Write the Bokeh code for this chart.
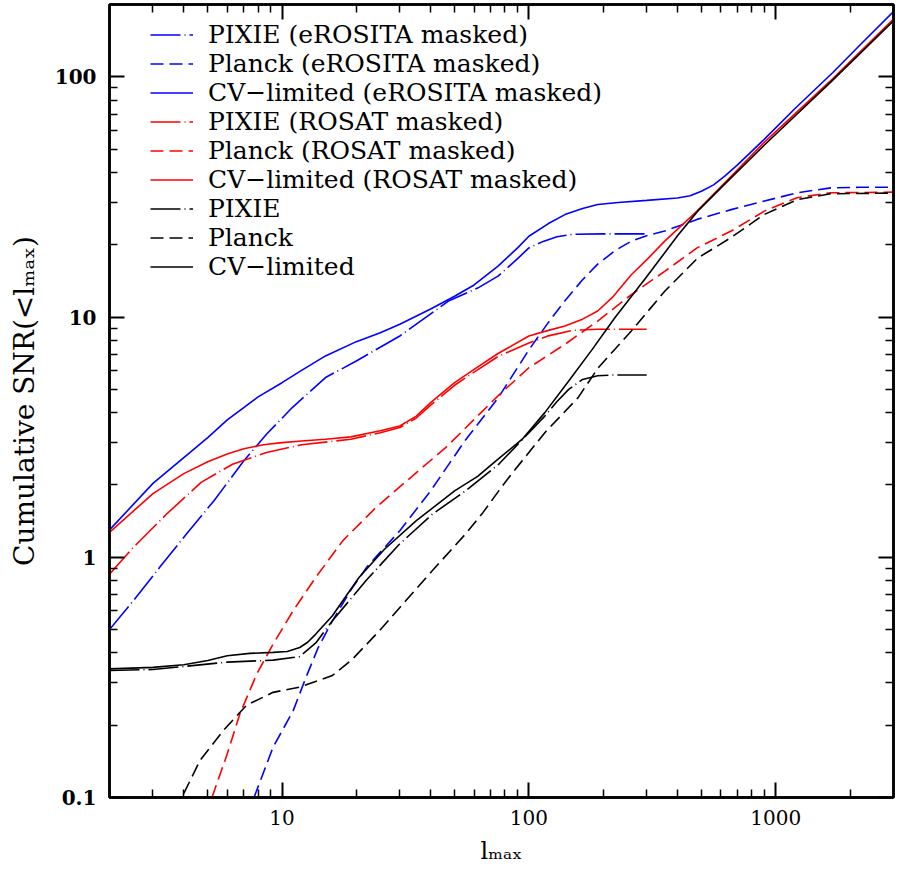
from bokeh.plotting import figure
from bokeh.models import (LogAxis, FixedTicker, CustomJSTickFormatter, Legend, LegendItem,
                          CustomLabelingPolicy)
from bokeh.embed import file_html
from bokeh.resources import INLINE

# ---------------- data ----------------
l_cv_ero = [2, 3, 4, 5, 6, 8, 10, 12, 15, 20, 25, 30, 40, 50, 60, 75, 90, 100, 120, 140, 165, 190,
            230, 300, 400, 450, 500, 560, 620, 700, 900, 1200, 1700, 2200, 3000]
s_cv_ero = [1.30, 2.03, 2.6, 3.15, 3.73, 4.65, 5.33, 6.0, 6.89, 7.9, 8.6, 9.33, 10.8, 12.2, 13.6, 16.3, 19.4, 21.7, 24.5, 26.7, 28.3, 29.4,
            30.0, 30.6, 31.3, 32.0, 33.4, 35.5, 38.5, 43, 55, 74, 104, 136, 187]

l_pixie_ero = [2, 2.5, 3.2, 4.1, 5.3, 7, 8.65, 11, 15, 20, 30, 40, 47.5, 62, 75, 90, 100, 115, 130, 150, 200, 300]
s_pixie_ero = [0.50, 0.66, 0.91, 1.25, 1.72, 2.52, 3.25, 4.2, 5.6, 6.56, 8.34, 10.3, 11.7, 13.2, 14.8, 17.5, 19.4, 20.7, 21.6, 22.1, 22.2, 22.2]

l_planck_ero = [7.7, 9.2, 11.1, 12.5, 14, 16, 19, 22, 30, 40, 55, 75, 100, 120, 140, 165, 190, 225, 260, 300,
                355, 480, 660, 900, 1220, 1670, 2200, 3000]
s_planck_ero = [0.1, 0.162, 0.23, 0.316, 0.42, 0.544, 0.73, 0.908, 1.29, 1.89, 3.05, 4.6, 7.3, 9.5, 11.7, 14.3, 16.6, 19.0, 20.7, 21.8,
                22.8, 25.5, 28.0, 30.4, 32.9, 34.5, 34.7, 34.7]

l_cv_ros = [2, 3, 4, 5, 6, 7, 8.4, 10, 12, 15, 19, 25, 30, 35, 40, 50, 60, 75, 100, 120, 140, 165, 190,
            220, 260, 300, 355, 480, 700, 900, 1700, 3000]
s_cv_ros = [1.27, 1.84, 2.23, 2.5, 2.69, 2.83, 2.94, 3.0, 3.05, 3.1, 3.17, 3.36, 3.52, 3.87, 4.4, 5.33, 6.06, 7.05, 8.34, 8.8, 9.18, 9.8, 10.6,
            12.2, 15.0, 17.3, 20.7, 27.6, 41, 53.5, 98, 174]

l_pixie_ros = [2, 2.5, 3.4, 4.7, 6.3, 8.65, 12, 19, 25, 30, 35, 40, 50, 60, 75, 100, 120, 150, 190, 300]
s_pixie_ros = [0.85, 1.10, 1.51, 2.05, 2.44, 2.73, 2.94, 3.10, 3.30, 3.47, 3.8, 4.3, 5.2, 5.9, 6.85, 7.8, 8.35, 8.8, 8.9, 8.9]

l_planck_ros = [5.2, 6, 6.75, 7.9, 9.2, 11.1, 13.7, 17.6, 24, 32, 46, 75, 100, 140, 190, 260, 355, 480, 660, 900, 1220, 1670, 3000]
s_planck_ros = [0.1, 0.152, 0.223, 0.327, 0.435, 0.60, 0.825, 1.17, 1.61, 2.08, 2.86, 4.7, 6.15, 7.7, 9.62, 12.4, 15.5, 19.4, 22.8, 27.6, 31.4, 32.9, 33.1]

l_cv = [2, 3, 4, 5, 6, 7.4, 9.2, 10.5, 11.8, 12.7, 13.7, 16, 18, 20.5, 26, 35, 50, 62, 75, 94, 116, 145, 180,
        223, 300, 400, 483, 600, 900, 1670, 3000]
s_cv = [0.343, 0.348, 0.357, 0.372, 0.389, 0.398, 0.402, 0.405, 0.421, 0.443, 0.479, 0.571, 0.68, 0.824, 1.08, 1.42, 1.89, 2.17, 2.56, 3.1, 4.0, 5.42, 7.3,
        9.94, 14.7, 21.8, 27.6, 34.5, 52, 95, 171]

l_pixie = [2, 3, 4, 6, 9.2, 11.8, 13.7, 16, 21.9, 29.8, 40.6, 55.4, 75.5, 116, 130, 145, 165, 190, 220, 300]
s_pixie = [0.338, 0.341, 0.351, 0.366, 0.373, 0.386, 0.44, 0.544, 0.80, 1.13, 1.51, 1.89, 2.44, 3.87, 4.45, 5.0, 5.5, 5.7, 5.74, 5.74]

l_planck = [4.0, 4.66, 5.78, 7.18, 9.2, 11.8, 16, 19.3, 24.8, 31.7, 40.6, 55.4, 65, 75.5, 85, 116, 158, 191, 260, 355, 483, 658, 897, 1222, 1667, 3000]
s_planck = [0.104, 0.143, 0.19, 0.242, 0.274, 0.288, 0.322, 0.377, 0.494, 0.659, 0.879, 1.25, 1.53, 1.89, 2.22, 3.3, 4.61, 6.15, 8.75, 12.8, 17.6, 21.4, 26.7, 30.8, 32.6, 32.8]

x_major = [10, 100, 1000]
y_major = [0.1, 1, 10, 100]
x_minor = [m * 10 ** e for e in range(0, 4) for m in range(2, 10)]
y_minor = [m * 10.0 ** e for e in range(-1, 3) for m in range(2, 10)]

labels = ["PIXIE (eROSITA masked)", "Planck (eROSITA masked)", "CV\u2212limited (eROSITA masked)",
          "PIXIE (ROSAT masked)", "Planck (ROSAT masked)", "CV\u2212limited (ROSAT masked)",
          "PIXIE", "Planck", "CV\u2212limited"]
x_title = "l\u2098\u2090\u2093"
y_title = "Cumulative SNR(<l\u2098\u2090\u2093)"

# ---------------- figure ----------------
FONT = "DejaVu Serif"
W, H = 898, 874
BL, BR, BT, BB = 109, 1, 3, 77
p = figure(width=W, height=H, x_axis_type="log", y_axis_type="log",
           x_range=(2, 3000), y_range=(0.1, 200),
           output_backend="svg", toolbar_location=None,
           min_border_left=BL, min_border_right=BR, min_border_top=BT, min_border_bottom=BB)
p.grid.visible = False
p.outline_line_color = "black"
p.outline_line_width = 2.5
p.background_fill_color = "white"
p.border_fill_color = "white"

xt = FixedTicker(ticks=x_major, minor_ticks=x_minor)
yt = FixedTicker(ticks=y_major, minor_ticks=y_minor)
fmt = CustomJSTickFormatter(code="return tick.toString()")

def style_axis(ax):
    ax.major_tick_in = 15
    ax.major_tick_out = 0
    ax.minor_tick_in = 8
    ax.minor_tick_out = 0
    ax.major_tick_line_width = 2
    ax.minor_tick_line_width = 1.5
    ax.axis_line_width = 2.5
    ax.axis_line_color = "black"
    ax.major_tick_line_color = "black"
    ax.minor_tick_line_color = "black"

xa = p.xaxis[0]
xa.ticker = xt
xa.formatter = fmt
style_axis(xa)
xa.major_label_text_font = FONT
xa.major_label_text_font_size = "20px"
xa.major_label_text_color = "black"
xa.major_label_standoff = 12
xa.axis_label = x_title
xa.axis_label_text_font = FONT
xa.axis_label_text_font_style = "normal"
xa.axis_label_text_font_size = "24px"
xa.axis_label_text_color = "black"
xa.axis_label_standoff = 9

ya = p.yaxis[0]
ya.ticker = yt
ya.formatter = fmt
style_axis(ya)
ya.major_label_text_font = FONT
ya.major_label_text_font_size = "20px"
ya.major_label_text_font_style = "bold"
ya.major_label_text_color = "black"
ya.major_label_standoff = 13
ya.axis_label = y_title
ya.axis_label_text_font = FONT
ya.axis_label_text_font_style = "normal"
ya.axis_label_text_font_size = "28px"
ya.axis_label_text_color = "black"
ya.axis_label_standoff = 11

hide_all = CustomLabelingPolicy(code="return []")
top = LogAxis(ticker=xt, formatter=fmt, major_label_policy=hide_all)
right = LogAxis(ticker=yt, formatter=fmt, major_label_policy=hide_all)
for ax in (top, right):
    style_axis(ax)
    ax.major_label_text_font_size = "1px"
    ax.major_label_standoff = 0
p.add_layout(top, "above")
p.add_layout(right, "right")

# ---------------- lines ----------------
LW = 1.6
PIXIE_DASH = "30 4 1 4"
PLANCK_DASH = "13 6"
series = [
    (l_pixie_ero, s_pixie_ero, "blue", PIXIE_DASH),
    (l_planck_ero, s_planck_ero, "blue", PLANCK_DASH),
    (l_cv_ero, s_cv_ero, "blue", "solid"),
    (l_pixie_ros, s_pixie_ros, "red", PIXIE_DASH),
    (l_planck_ros, s_planck_ros, "red", PLANCK_DASH),
    (l_cv_ros, s_cv_ros, "red", "solid"),
    (l_pixie, s_pixie, "black", PIXIE_DASH),
    (l_planck, s_planck, "black", PLANCK_DASH),
    (l_cv, s_cv, "black", "solid"),
]
items = []
for (lx, sy, col, dash), lab in zip(series, labels):
    r = p.line(lx, sy, line_color=col, line_width=LW, line_dash=dash)
    items.append(LegendItem(label=lab, renderers=[r]))

legend = Legend(items=items, location=(41, 516),
                label_text_font=FONT, label_text_font_size="25px", label_text_color="black",
                label_standoff=15, glyph_width=43, glyph_height=29, label_height=29,
                spacing=0, padding=0, margin=0,
                background_fill_alpha=0, border_line_alpha=0)
p.add_layout(legend)

open("out.html", "w").write(file_html(p, INLINE))
